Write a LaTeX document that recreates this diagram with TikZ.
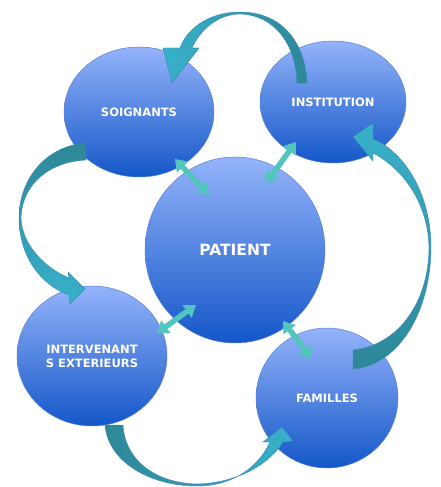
\documentclass[tikz,border=0pt]{standalone}
\usepackage{fontspec}
\setmainfont{DejaVu Sans}
\usetikzlibrary{shapes.geometric,arrows.meta}

\definecolor{ellTop}{HTML}{94B3FA}
\definecolor{ellBot}{HTML}{1457C8}
\definecolor{ellLine}{HTML}{5A80D2}
\definecolor{arrDark}{HTML}{2D8797}
\definecolor{arrLight}{HTML}{38B1CA}
\definecolor{arrLine}{HTML}{3C86BC}
\definecolor{dblFill}{HTML}{52C6BC}

\begin{document}
\begin{tikzpicture}[x=1pt,y=-1pt,
        bubble/.style={ellipse, draw=ellLine, line width=0.5pt, top color=ellTop, bottom color=ellBot,
                inner sep=0pt, text=white, align=center, font=\bfseries\fontsize{11.5}{14}\selectfont},
        bigarrow/.style={draw=arrLine, line width=0.4pt},
        dbl/.style={dblFill, line width=5.5pt, {Triangle[length=11pt,width=15pt]}-{Triangle[length=11pt,width=15pt]}}]
        
        \useasboundingbox (0,0) rectangle (440,487);
        
        % center first, the others lie on top of it
        \node[bubble, minimum width=180pt, minimum height=186pt, font=\bfseries\fontsize{15.5}{18}\selectfont] (patient) at (235,250) {PATIENT};
        \node[bubble, minimum width=150pt, minimum height=130pt] (soign) at (139,112) {SOIGNANTS};
        \node[bubble, minimum width=146pt, minimum height=122pt] (instit) at (333,102) {INSTITUTION};
        \node[bubble, minimum width=150pt, minimum height=140pt] (interv) at (92,356) {INTERVENANT\\S EXTERIEURS};
        \node[bubble, minimum width=142pt, minimum height=140pt] (famil) at (327,398) {FAMILLES};
        
        % curved arrows round the outside
        \shadedraw[bigarrow, left color=arrLight, right color=arrDark]
                (297,83) -- (307,83) .. controls (305,40) and (280,12) .. (240,12)
                .. controls (210,12) and (187,28) .. (180,48) -- (199,48) -- (172,83) -- (163,48) -- (192,48)
                .. controls (200,30) and (218,14) .. (240,14) .. controls (275,15) and (296,45) .. cycle;
        \shadedraw[bigarrow, top color=arrDark, bottom color=arrLight]
                (86,160) -- (86,143) .. controls (45,146) and (19,180) .. (19,218)
                .. controls (19,255) and (40,285) .. (69,295) -- (70,304) -- (85,289) -- (68,272) -- (69,278)
                .. controls (45,268) and (22,245) .. (21,218) .. controls (22,185) and (48,162) .. cycle;
        \shadedraw[bigarrow, left color=arrDark, right color=arrLight]
                (123,425) -- (105,425) .. controls (108,462) and (150,486) .. (197,486)
                .. controls (232,486) and (258,468) .. (270,442) -- (263,442) -- (282,427) -- (293,441) -- (283,442)
                .. controls (268,466) and (235,483) .. (197,484) .. controls (155,483) and (125,460) .. cycle;
        \shadedraw[bigarrow, top color=arrLight, bottom color=arrDark]
                (353,350) -- (353,369) .. controls (400,365) and (431,310) .. (431,247)
                .. controls (431,195) and (405,152) .. (373,139) -- (373,123) -- (353,137) -- (373,161) -- (373,153)
                .. controls (405,170) and (428,205) .. (429,247) .. controls (429,300) and (400,345) .. cycle;
        
        % short links with the patient
        \coordinate (s1) at (175,159);
        \coordinate (p1) at (209,195);
        \coordinate (i1) at (296,142);
        \coordinate (p2) at (266,183);
        \coordinate (e1) at (157,333);
        \coordinate (p3) at (196,305);
        \coordinate (p4) at (283,321);
        \coordinate (f1) at (312,359);
        \draw[dbl] (s1) -- (p1);
        \draw[dbl] (i1) -- (p2);
        \draw[dbl] (e1) -- (p3);
        \draw[dbl] (p4) -- (f1);
        
\end{tikzpicture}
\end{document}
